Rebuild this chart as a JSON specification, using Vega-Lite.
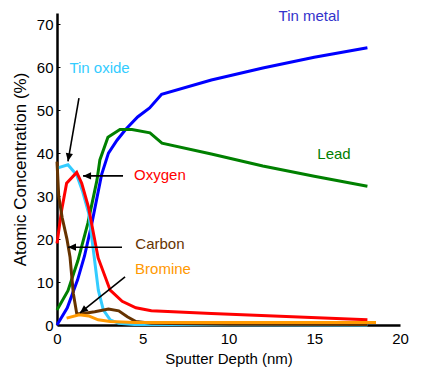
{
  "$schema": "https://vega.github.io/schema/vega-lite/v6.json",
  "autosize": "none",
  "width": 343,
  "height": 312,
  "padding": {"left": 57, "top": 13, "right": 21, "bottom": 55},
  "background": "white",
  "config": {
    "view": {"stroke": null},
    "font": "Liberation Sans",
    "axis": {
      "domainColor": "black",
      "domainWidth": 2.5,
      "grid": false,
      "labelFont": "Liberation Sans",
      "labelFontSize": 15,
      "labelColor": "black",
      "labelFlush": false,
      "titleFont": "Liberation Sans",
      "titleFontSize": 15,
      "titleFontWeight": "normal",
      "titleColor": "black",
      "tickColor": "black"
    }
  },
  "datasets": {
    "series": [
      {"series": "Tin metal", "x": 0, "y": 0},
      {"series": "Tin metal", "x": 0.6, "y": 4},
      {"series": "Tin metal", "x": 1.2, "y": 10.5},
      {"series": "Tin metal", "x": 1.6, "y": 16},
      {"series": "Tin metal", "x": 2.0, "y": 23},
      {"series": "Tin metal", "x": 2.3, "y": 29},
      {"series": "Tin metal", "x": 2.6, "y": 35},
      {"series": "Tin metal", "x": 3.0, "y": 40},
      {"series": "Tin metal", "x": 3.5, "y": 43},
      {"series": "Tin metal", "x": 4.0, "y": 45.5},
      {"series": "Tin metal", "x": 4.7, "y": 48.4},
      {"series": "Tin metal", "x": 5.4, "y": 50.5},
      {"series": "Tin metal", "x": 6.1, "y": 53.7},
      {"series": "Tin metal", "x": 9, "y": 57},
      {"series": "Tin metal", "x": 12, "y": 59.8},
      {"series": "Tin metal", "x": 15, "y": 62.3},
      {"series": "Tin metal", "x": 18.1, "y": 64.5},
      {"series": "Lead", "x": 0, "y": 3.5},
      {"series": "Lead", "x": 0.64, "y": 8},
      {"series": "Lead", "x": 1.22, "y": 15},
      {"series": "Lead", "x": 1.8, "y": 23.7},
      {"series": "Lead", "x": 2.33, "y": 33.7},
      {"series": "Lead", "x": 2.5, "y": 38.4},
      {"series": "Lead", "x": 2.97, "y": 43.7},
      {"series": "Lead", "x": 3.67, "y": 45.5},
      {"series": "Lead", "x": 4.37, "y": 45.5},
      {"series": "Lead", "x": 5.42, "y": 44.7},
      {"series": "Lead", "x": 6.12, "y": 42.3},
      {"series": "Lead", "x": 9, "y": 39.8},
      {"series": "Lead", "x": 12, "y": 37},
      {"series": "Lead", "x": 15, "y": 34.6},
      {"series": "Lead", "x": 18.1, "y": 32.3},
      {"series": "Tin oxide", "x": 0, "y": 36.5},
      {"series": "Tin oxide", "x": 0.64, "y": 37.3},
      {"series": "Tin oxide", "x": 1.15, "y": 34.9},
      {"series": "Tin oxide", "x": 1.5, "y": 31},
      {"series": "Tin oxide", "x": 1.85, "y": 26},
      {"series": "Tin oxide", "x": 2.1, "y": 18},
      {"series": "Tin oxide", "x": 2.41, "y": 8.1},
      {"series": "Tin oxide", "x": 2.7, "y": 3.5},
      {"series": "Tin oxide", "x": 3.1, "y": 1.2},
      {"series": "Tin oxide", "x": 3.6, "y": 0.4},
      {"series": "Tin oxide", "x": 4.5, "y": 0.1},
      {"series": "Tin oxide", "x": 18.1, "y": 0},
      {"series": "Oxygen", "x": 0, "y": 19},
      {"series": "Oxygen", "x": 0.27, "y": 26.7},
      {"series": "Oxygen", "x": 0.56, "y": 33},
      {"series": "Oxygen", "x": 1.15, "y": 35.5},
      {"series": "Oxygen", "x": 1.44, "y": 33},
      {"series": "Oxygen", "x": 1.83, "y": 27.5},
      {"series": "Oxygen", "x": 2.4, "y": 15.6},
      {"series": "Oxygen", "x": 3.1, "y": 8.1},
      {"series": "Oxygen", "x": 3.8, "y": 5.5},
      {"series": "Oxygen", "x": 4.6, "y": 4},
      {"series": "Oxygen", "x": 5.5, "y": 3.3},
      {"series": "Oxygen", "x": 9, "y": 2.7},
      {"series": "Oxygen", "x": 18.1, "y": 1.2},
      {"series": "Carbon", "x": 0, "y": 38},
      {"series": "Carbon", "x": 0.1, "y": 30},
      {"series": "Carbon", "x": 0.3, "y": 25},
      {"series": "Carbon", "x": 0.58, "y": 20},
      {"series": "Carbon", "x": 0.76, "y": 15.8},
      {"series": "Carbon", "x": 0.95, "y": 7.4},
      {"series": "Carbon", "x": 1.15, "y": 2.7},
      {"series": "Carbon", "x": 1.44, "y": 2.6},
      {"series": "Carbon", "x": 2.2, "y": 3.1},
      {"series": "Carbon", "x": 3.0, "y": 3.7},
      {"series": "Carbon", "x": 3.6, "y": 3.3},
      {"series": "Carbon", "x": 4.1, "y": 1.9},
      {"series": "Carbon", "x": 4.6, "y": 0.8},
      {"series": "Carbon", "x": 5.5, "y": 0.4},
      {"series": "Carbon", "x": 10, "y": 0.2},
      {"series": "Carbon", "x": 18.1, "y": 0.1},
      {"series": "Bromine", "x": 0.56, "y": 1.6},
      {"series": "Bromine", "x": 1.3, "y": 2.4},
      {"series": "Bromine", "x": 1.85, "y": 2.1},
      {"series": "Bromine", "x": 2.4, "y": 1.2},
      {"series": "Bromine", "x": 3.1, "y": 0.8},
      {"series": "Bromine", "x": 4.5, "y": 0.6},
      {"series": "Bromine", "x": 10, "y": 0.6},
      {"series": "Bromine", "x": 18.6, "y": 0.6}
    ],
    "labels": [
      {"series": "Tin metal", "x": 14.7, "y": 71.9},
      {"series": "Tin oxide", "x": 2.48, "y": 59.8},
      {"series": "Lead", "x": 16.15, "y": 39.8},
      {"series": "Oxygen", "x": 6.0, "y": 34.9},
      {"series": "Carbon", "x": 6.0, "y": 18.8},
      {"series": "Bromine", "x": 6.18, "y": 13}
    ],
    "arrows": [
      {"arrow": "Tin oxide", "x": 1.28, "y": 52.8, "x2": 0.64, "y2": 38.1},
      {"arrow": "Oxygen", "x": 3.85, "y": 34.7, "x2": 1.52, "y2": 34.7},
      {"arrow": "Carbon", "x": 3.79, "y": 18.1, "x2": 0.64, "y2": 18.1},
      {"arrow": "Bromine", "x": 3.97, "y": 11.2, "x2": 1.34, "y2": 2.8}
    ]
  },
  "layer": [
    {
      "data": {"name": "series"},
      "mark": {"type": "line", "strokeWidth": 3, "clip": false},
      "encoding": {
        "x": {"field": "x", "type": "quantitative", "scale": {"domain": [0, 20], "nice": false},
              "axis": {"values": [0, 5, 10, 15, 20], "title": "Sputter Depth (nm)", "ticks": false, "labelPadding": 6, "titlePadding": 5}},
        "y": {"field": "y", "type": "quantitative", "scale": {"domain": [0, 72.6], "nice": false},
              "axis": {"values": [0, 10, 20, 30, 40, 50, 60, 70], "title": "Atomic Concentration (%)", "titleFontSize": 17, "tickSize": -3, "labelPadding": 7, "titlePadding": 7}},
        "color": {"field": "series", "type": "nominal", "legend": null,
                  "scale": {"domain": ["Tin metal", "Lead", "Tin oxide", "Oxygen", "Carbon", "Bromine"],
                            "range": ["#0000ff", "#008000", "#33ccff", "#ff0000", "#663300", "#ff9900"]}},
        "detail": {"field": "series"}
      }
    },
    {
      "data": {"name": "arrows"},
      "mark": {"type": "rule", "color": "black", "strokeWidth": 1.6},
      "encoding": {
        "x": {"field": "x", "type": "quantitative"},
        "y": {"field": "y", "type": "quantitative"},
        "x2": {"field": "x2"},
        "y2": {"field": "y2"}
      }
    },
    {
      "data": {"name": "arrows"},
      "transform": [{"filter": "datum.arrow === 'Oxygen' || datum.arrow === 'Carbon'"}],
      "mark": {"type": "point", "shape": "M0,0L-0.45,1L0.45,1Z", "filled": true, "color": "black", "size": 256, "opacity": 1, "angle": 270},
      "encoding": {
        "x": {"field": "x2", "type": "quantitative"},
        "y": {"field": "y2", "type": "quantitative"}
      }
    },
    {
      "data": {"name": "arrows"},
      "transform": [{"filter": "datum.arrow === 'Tin oxide'"}],
      "mark": {"type": "point", "shape": "M0,0L-0.45,1L0.45,1Z", "filled": true, "color": "black", "size": 256, "opacity": 1, "angle": 190},
      "encoding": {
        "x": {"field": "x2", "type": "quantitative"},
        "y": {"field": "y2", "type": "quantitative"}
      }
    },
    {
      "data": {"name": "arrows"},
      "transform": [{"filter": "datum.arrow === 'Bromine'"}],
      "mark": {"type": "point", "shape": "M0,0L-0.45,1L0.45,1Z", "filled": true, "color": "black", "size": 256, "opacity": 1, "angle": 231},
      "encoding": {
        "x": {"field": "x2", "type": "quantitative"},
        "y": {"field": "y2", "type": "quantitative"}
      }
    },
    {
      "data": {"name": "labels"},
      "mark": {"type": "text", "font": "Liberation Sans", "fontSize": 15, "align": "center", "baseline": "middle"},
      "encoding": {
        "x": {"field": "x", "type": "quantitative"},
        "y": {"field": "y", "type": "quantitative"},
        "text": {"field": "series"},
        "color": {"field": "series", "type": "nominal", "legend": null,
                  "scale": {"domain": ["Tin metal", "Tin oxide", "Lead", "Oxygen", "Carbon", "Bromine"],
                            "range": ["#3333cc", "#33ccff", "#008000", "#ff0000", "#663300", "#ff9900"]}}
      }
    }
  ],
  "resolve": {"scale": {"color": "independent"}}
}
